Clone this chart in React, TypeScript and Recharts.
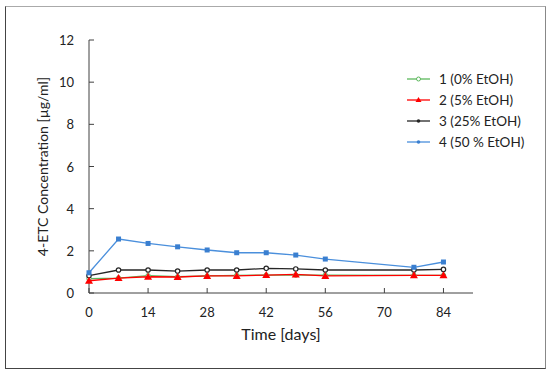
import { LineChart, Line, XAxis, YAxis, Label } from 'recharts'

// sampling days
const days = [0, 7, 14, 21, 28, 35, 42, 49, 56, 77, 84]

// 4-ETC concentration [µg/ml] per ethanol content
const etoh0 = [0.68, 0.71, 0.82, 0.77, 0.81, 0.84, 0.85, 0.85, 0.85, 0.84, 0.84]
const etoh5 = [0.58, 0.71, 0.77, 0.76, 0.81, 0.81, 0.85, 0.88, 0.81, 0.84, 0.84]
const etoh25 = [0.82, 1.09, 1.09, 1.04, 1.09, 1.09, 1.17, 1.14, 1.09, 1.09, 1.12]
const etoh50 = [0.96, 2.56, 2.35, 2.19, 2.04, 1.91, 1.91, 1.8, 1.61, 1.22, 1.47]

const xTicks = [0, 14, 28, 42, 56, 70, 84]
const yTicks = [0, 2, 4, 6, 8, 10, 12]

const seriesNames = ['1 (0% EtOH)', '2 (5% EtOH)', '3 (25% EtOH)', '4 (50 % EtOH)']

const FONT = 'Lato, "Open Sans", sans-serif'
const AXIS = '#404040'
const PLOT_LEFT = 89
const PLOT_BOTTOM = 293

const rows = days.map((d, i) => ({
  day: d,
  s0: etoh0[i],
  s5: etoh5[i],
  s25: etoh25[i],
  s50: etoh50[i],
}))

const colors = ['#5cb85c', '#ff0000', '#262626', '#4a8fdc']

function XTick(props: any) {
  const { x, payload } = props
  return (
    <g>
      <line x1={x} x2={x} y1={PLOT_BOTTOM} y2={PLOT_BOTTOM - 5} stroke={AXIS} />
      <text x={x} y={PLOT_BOTTOM + 24} textAnchor="middle" fontSize={13} fill="#222" fontFamily={FONT}>
        {payload.value}
      </text>
    </g>
  )
}

function YTick(props: any) {
  const { y, payload } = props
  return (
    <g>
      <line x1={PLOT_LEFT} x2={PLOT_LEFT + 5} y1={y} y2={y} stroke={AXIS} />
      <text x={PLOT_LEFT - 15} y={y + 5} textAnchor="end" fontSize={13} fill="#222" fontFamily={FONT}>
        {payload.value}
      </text>
    </g>
  )
}

function Triangle(props: any) {
  const { cx, cy } = props
  if (cx == null || cy == null) return null
  return <path d={`M${cx},${cy - 4}L${cx + 4},${cy + 3}L${cx - 4},${cy + 3}Z`} fill="#ff0000" />
}

function Square(props: any) {
  const { cx, cy } = props
  if (cx == null || cy == null) return null
  return <rect x={cx - 2.5} y={cy - 2.5} width={5} height={5} fill="#3a7fd0" />
}

function ChartLegend() {
  return (
    <div style={{ position: 'absolute', left: 407, top: 68, fontFamily: FONT, fontSize: 13.5, color: '#222' }}>
      {seriesNames.map((n, i) => (
        <div key={n} style={{ display: 'flex', alignItems: 'center', height: 21 }}>
          <svg width={32} height={10}>
            <line x1={0} x2={23} y1={5} y2={5} stroke={colors[i]} strokeWidth={1.3} />
            {i === 0 && <circle cx={11.5} cy={5} r={2} fill="#fff" stroke={colors[0]} />}
            {i === 1 && <path d="M11.5,2L14.5,7L8.5,7Z" fill="#ff0000" />}
            {i === 2 && <circle cx={11.5} cy={5} r={1.8} fill="#262626" />}
            {i === 3 && <circle cx={11.5} cy={5} r={1.8} fill="#3a7fd0" />}
          </svg>
          <span>{n}</span>
        </div>
      ))}
    </div>
  )
}

export default function App() {
  return (
    <div style={{ position: 'absolute', left: 0, top: 0, width: 550, height: 375, background: '#fff' }}>
      <div
        style={{
          position: 'absolute',
          left: 5,
          top: 6,
          width: 539,
          height: 361,
          borderLeft: '1.5px solid #444',
          borderBottom: '1.5px solid #444',
          borderTop: '1px solid #aaa',
          borderRight: '1px solid #888',
        }}
      />
      <LineChart
        width={550}
        height={375}
        data={rows}
        margin={{ top: 40, right: 77, bottom: 27, left: 29 }}
        style={{ position: 'absolute', left: 0, top: 0 }}
      >
        <XAxis
          dataKey="day"
          type="number"
          domain={[0, 91]}
          ticks={xTicks}
          stroke={AXIS}
          tickLine={false}
          tick={<XTick />}
          height={55}
          interval={0}
        >
          <Label value="Time [days]" position="insideBottom" offset={8} fontSize={16} fill="#222" fontFamily={FONT} />
        </XAxis>
        <YAxis
          type="number"
          domain={[0, 12]}
          ticks={yTicks}
          stroke={AXIS}
          tickLine={false}
          tick={<YTick />}
          width={60}
          interval={0}
        >
          <Label
            value="4-ETC Concentration [µg/ml]"
            angle={-90}
            position="center"
            dx={-16}
            fontSize={14}
            fill="#222"
            fontFamily={FONT}
          />
        </YAxis>
        <Line
          dataKey="s0"
          name={seriesNames[0]}
          stroke={colors[0]}
          strokeWidth={1.3}
          dot={{ r: 2.2, fill: '#fff', stroke: colors[0], strokeWidth: 1 }}
          isAnimationActive={false}
        />
        <Line
          dataKey="s25"
          name={seriesNames[2]}
          stroke={colors[2]}
          strokeWidth={1.3}
          dot={{ r: 2.2, fill: '#fff', stroke: colors[2], strokeWidth: 1.2 }}
          isAnimationActive={false}
        />
        <Line
          dataKey="s50"
          name={seriesNames[3]}
          stroke={colors[3]}
          strokeWidth={1.3}
          dot={<Square />}
          isAnimationActive={false}
        />
        <Line
          dataKey="s5"
          name={seriesNames[1]}
          stroke={colors[1]}
          strokeWidth={1.3}
          dot={<Triangle />}
          isAnimationActive={false}
        />
      </LineChart>
      <ChartLegend />
    </div>
  )
}
